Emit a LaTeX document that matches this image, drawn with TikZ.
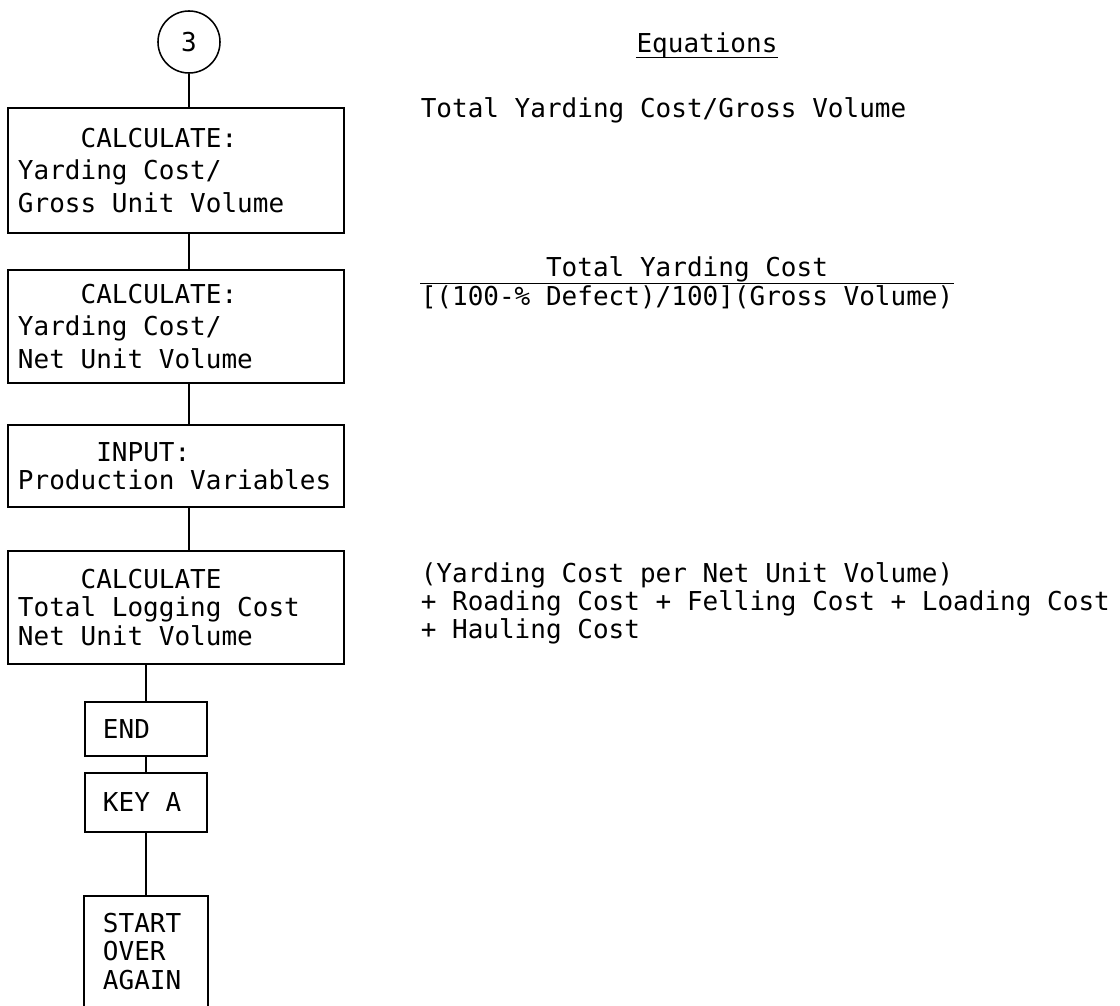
\documentclass[tikz,border=0pt]{standalone}
\usepackage{fontspec}
\setmainfont{DejaVu Sans Mono}
\usetikzlibrary{positioning}
\newcommand{\skipchars}[1]{\hspace*{#1\fontcharwd\font`M}}

\begin{document}
\begin{tikzpicture}[
x=0.025cm, y=-0.025cm,
line width=1.1pt,
every node/.style={
  font=\fontsize{18.5}{20}\selectfont},
flowbox/.style={
  draw,
  rectangle,
  align=flush left,
  text width=7.9cm,
  inner xsep=0.25cm,
  inner ysep=0pt},
widelines/.style={
  font=\fontsize{18.5}{23}\selectfont},
smallbox/.style={
  draw,
  rectangle,
  align=flush left,
  text width=2.15cm,
  inner xsep=0.45cm,
  inner ysep=0pt},
eqtext/.style={
  anchor=west,
  align=flush left,
  inner sep=0pt}
]
\useasboundingbox (0,0) rectangle (1120,1006);
% flow chart column
\node[circle, draw, minimum size=1.55cm, inner sep=0pt] (conn) at (189,42) {3};
\node[flowbox, widelines, minimum height=3.125cm] (yardgross) at (176,170.5)
  {\skipchars{4}CALCULATE:\\Yarding Cost/\\Gross Unit Volume};
\node[flowbox, widelines, minimum height=2.825cm] (yardnet) at (176,326.5)
  {\skipchars{4}CALCULATE:\\Yarding Cost/\\Net Unit Volume};
\node[flowbox, minimum height=2.05cm] (prodvar) at (176,466)
  {\skipchars{5}INPUT:\\Production Variables};
\node[flowbox, minimum height=2.825cm] (totcost) at (176,607.5)
  {\skipchars{4}CALCULATE\\Total Logging Cost\\Net Unit Volume};
\node[smallbox, minimum height=1.35cm] (endbox) at (146,729) {END};
\node[smallbox, minimum height=1.475cm] (keya) at (146,802.5) {KEY A};
\node[smallbox, draw=none, minimum height=2.725cm] (startover) at (146,951.5)
  {START\\OVER\\AGAIN};
\draw (startover.south west) |- (startover.north east) -- (startover.south east);

\draw (conn.south) -- (conn.south |- yardgross.north);
\draw (yardgross.south -| conn) -- (yardnet.north -| conn);
\draw (yardnet.south -| conn) -- (prodvar.north -| conn);
\draw (prodvar.south -| conn) -- (totcost.north -| conn);
\draw (totcost.south -| endbox) -- (endbox.north);
\draw (endbox) -- (keya);
\draw (keya) -- (startover.north);

% equations
\node[inner sep=0pt] (eqhead) at (707,45) {Equations};
\draw[line width=0.8pt] ([yshift=-4pt]eqhead.base west) -- ([yshift=-4pt]eqhead.base east);
\node[eqtext] (eqgross) at (420,110) {Total Yarding Cost/Gross Volume};
\node[eqtext] (eqden) at (420,297) {[(100-\% Defect)/100](Gross Volume)};
\node[above=1pt of eqden, inner sep=0pt] (eqnum) {Total Yarding Cost};
\draw[line width=0.8pt] ([yshift=1pt]eqden.north west) -- ([yshift=1pt]eqden.north east);
\node[eqtext] (eqtotal) at (420,603)
  {(Yarding Cost per Net Unit Volume)\\+ Roading Cost + Felling Cost + Loading Cost\\+ Hauling Cost};
\end{tikzpicture}
\end{document}
